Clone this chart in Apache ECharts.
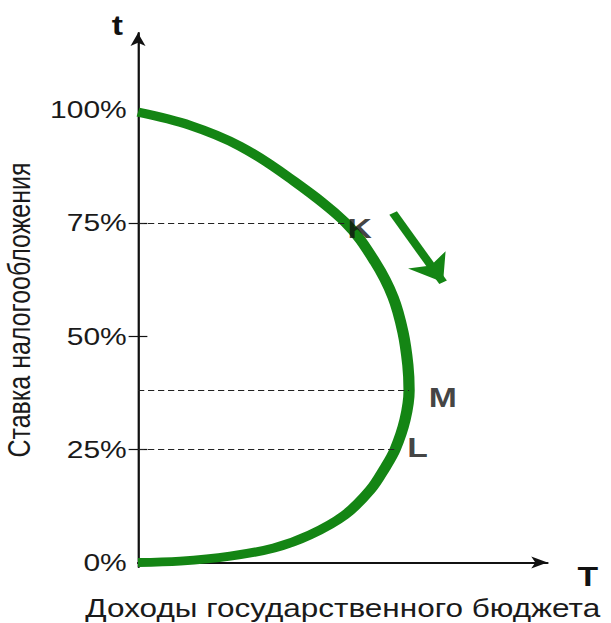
<!DOCTYPE html>
<html><head><meta charset="utf-8">
<script src="https://cdn.jsdelivr.net/npm/echarts@6/dist/echarts.min.js"></script>
<style>
html,body{margin:0;padding:0;background:#fff;overflow:hidden;}
#wrap{width:611px;height:623px;overflow:hidden;}
#chart{width:489px;height:623px;transform:scaleX(1.25);transform-origin:0 0;}
</style></head><body><div id="wrap"><div id="chart"></div></div>
<script>
// tick labels of the rate axis (%)
const rateTicks = [0, 25, 50, 75, 100];
// Laffer curve: revenue (x) vs tax rate (y, %)
const curveRevenue = [0, 12.7, 24.9, 37.1, 50.8, 57.9, 62.3, 64.7, 65.9, 66.2, 65.2, 62.8, 60.3, 56.7, 50.5, 42.0, 33.2, 22.5, 10.3, 0];
const curveRate    = [99.5, 96.6, 92.0, 84.9, 75, 66.4, 58.6, 50.9, 43.6, 38, 31.5, 25, 20.9, 16.0, 10.5, 6.1, 3.2, 1.4, 0.3, 0];
// marked points
const pointNames   = ['K', 'M', 'L'];
const pointRevenue = [50.8, 66.2, 62.8];
const pointRate    = [75, 38, 25];
// direction arrow
const arrowFrom = [62.3, 77.2];
const arrowTo   = [74.5, 61.9];

const GREEN = '#148514';
const FONT = 'Liberation Sans, Arial, sans-serif';
const labelOffsets = { K: [11, 5], M: [27, 7], L: [18, -2] };

const chart = echarts.init(document.getElementById('chart'), null, { renderer: 'svg' });
chart.setOption({
  animation: false,
  backgroundColor: '#fff',
  textStyle: { fontFamily: FONT },
  grid: { left: 110.4, right: 51, top: 33, bottom: 56, containLabel: false, outerBoundsMode: 'none' },
  xAxis: [{
    type: 'value', min: 0, max: 100, position: 'bottom',
    axisLine: { show: true, symbol: ['none', 'arrow'], symbolSize: [9, 13], lineStyle: { color: '#111', width: 1.8 } },
    axisTick: { show: false }, axisLabel: { show: false }, splitLine: { show: false },
    name: 'T', nameLocation: 'end', nameGap: 24,
    nameTextStyle: { fontSize: 27, fontWeight: 'bold', color: '#111', fontFamily: FONT, verticalAlign: 'top', padding: [0, 0, 0, 0] }
  }, {
    type: 'value', min: 0, max: 100, position: 'bottom',
    axisLine: { show: false }, axisTick: { show: false }, axisLabel: { show: false }, splitLine: { show: false },
    name: 'Доходы государственного бюджета', nameLocation: 'middle', nameGap: 28,
    nameTextStyle: { fontSize: 25.2, color: '#1a1a1a', fontFamily: FONT, verticalAlign: 'top', lineHeight: 26 }
  }],
  yAxis: [{
    type: 'value', min: -1, max: 117, position: 'left',
    axisLine: { show: true, symbol: ['none', 'arrow'], symbolSize: [9, 13], lineStyle: { color: '#111', width: 1.8 } },
    axisTick: { show: true, customValues: rateTicks.filter(v => v > 0 && v < 100), length: 7.5, lineStyle: { color: '#111', width: 1.2 } },
    axisLabel: { show: true, customValues: rateTicks, formatter: v => v + '%', fontSize: 24, color: '#1a1a1a', margin: 9, fontFamily: FONT },
    splitLine: { show: false },
    name: 't', nameLocation: 'end', nameGap: 8,
    nameTextStyle: { fontSize: 27, fontWeight: 'bold', color: '#111', fontFamily: FONT, align: 'right', verticalAlign: 'middle', padding: [0, 12, 0, 0] }
  }, {
    type: 'value', min: -1, max: 117, position: 'left',
    axisLine: { show: false },
    axisTick: { show: true, inside: true, customValues: rateTicks.filter(v => v > 0 && v < 100), length: 7.5, lineStyle: { color: '#111', width: 1.2 } },
    axisLabel: { show: false }, splitLine: { show: false },
    name: 'Ставка налогообложения', nameLocation: 'middle', nameGap: 83,
    nameTextStyle: { fontSize: 25, color: '#1a1a1a', fontFamily: FONT, padding: [0, 20, 0, 0] }
  }],
  series: [{
    type: 'line', data: [], silent: true,
    markLine: {
      silent: true, symbol: 'none', label: { show: false },
      lineStyle: { type: [5, 3], color: '#222', width: 1 },
      data: pointNames.map((n, i) => [{ coord: [0, pointRate[i]] }, { coord: [pointRevenue[i], pointRate[i]] }])
    },
    z: 1
  }, {
    type: 'line', smooth: 0.35, showSymbol: false, silent: true,
    data: curveRevenue.map((x, i) => [x, curveRate[i]]),
    lineStyle: { color: GREEN, width: 9, cap: 'butt' },
    z: 3
  }, {
    type: 'scatter', symbolSize: 0, silent: true,
    data: pointNames.map((n, i) => ({
      name: n, value: [pointRevenue[i], pointRate[i]],
      label: { offset: labelOffsets[n] }
    })),
    label: { show: true, position: 'inside', formatter: p => p.name, fontSize: 27, fontWeight: 'bold', color: '#111', fontFamily: FONT },
    z: 4
  }, {
    type: 'lines', coordinateSystem: 'cartesian2d', silent: true,
    symbol: ['none', 'arrow'], symbolSize: [24, 26],
    lineStyle: { color: GREEN, width: 7, opacity: 1, curveness: 0 },
    data: [{ coords: [arrowFrom, arrowTo] }],
    z: 3
  }]
});
</script></body></html>
